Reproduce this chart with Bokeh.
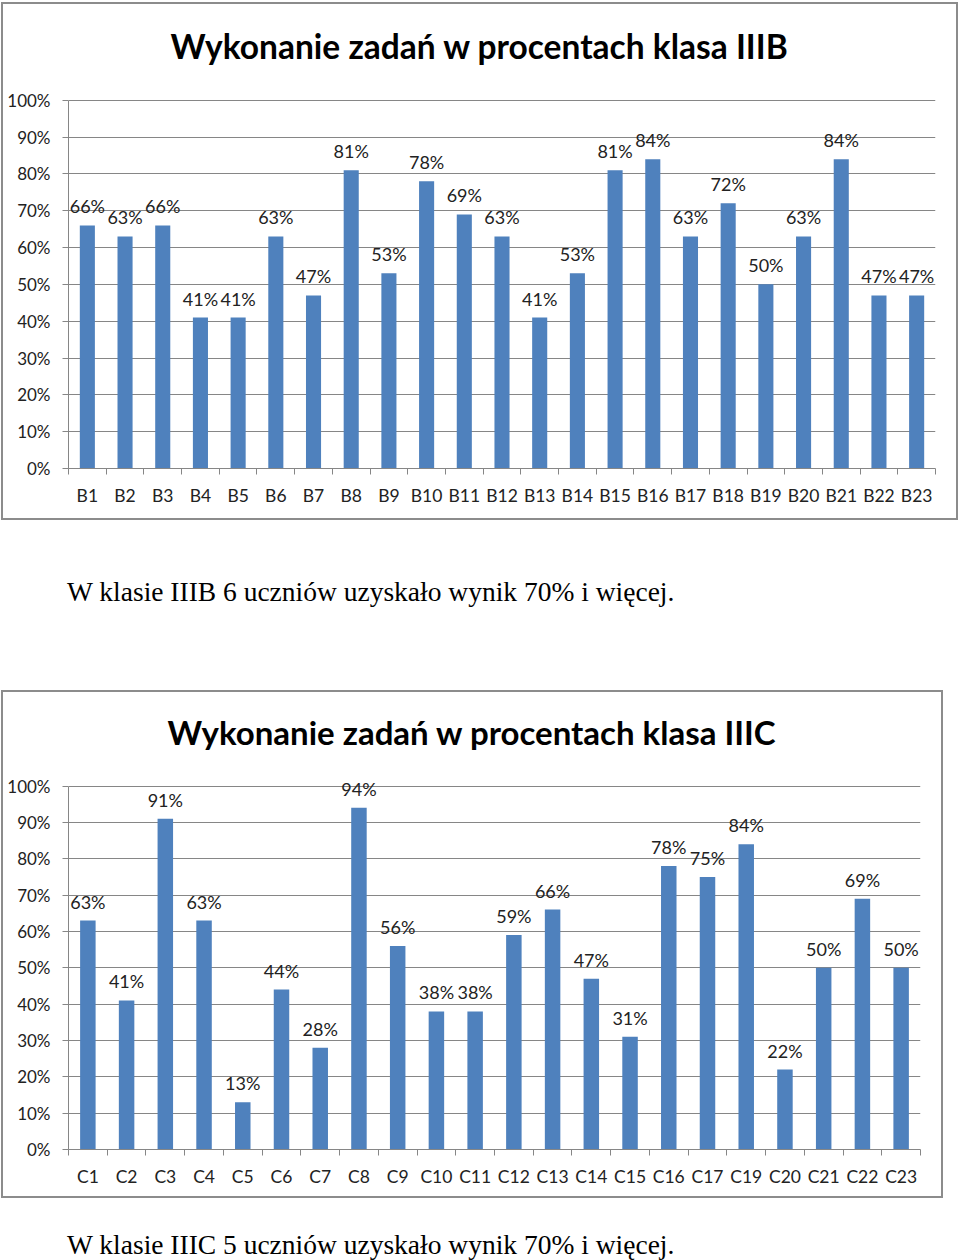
from bokeh.plotting import figure
from bokeh.models import (Range1d, LinearAxis, FixedTicker, PrintfTickFormatter, Title, Div,
                          ColumnDataSource, Grid, LabelSet, CustomJSTickFormatter)
from bokeh.core.properties import value
from bokeh.layouts import column
from bokeh.embed import file_html
from bokeh.resources import INLINE

# ---------------- data ----------------
title_b = "Wykonanie zadań w procentach klasa IIIB"
cats_b = ["B1", "B2", "B3", "B4", "B5", "B6", "B7", "B8", "B9", "B10", "B11", "B12",
          "B13", "B14", "B15", "B16", "B17", "B18", "B19", "B20", "B21", "B22", "B23"]
vals_b = [66, 63, 66, 41, 41, 63, 47, 81, 53, 78, 69, 63, 41, 53, 81, 84, 63, 72, 50, 63, 84, 47, 47]
caption_b = "W klasie IIIB 6 uczniów uzyskało wynik 70% i więcej."

title_c = "Wykonanie zadań w procentach klasa IIIC"
cats_c = ["C1", "C2", "C3", "C4", "C5", "C6", "C7", "C8", "C9", "C10", "C11", "C12",
          "C13", "C14", "C15", "C16", "C17", "C19", "C20", "C21", "C22", "C23"]
vals_c = [63, 41, 91, 63, 13, 44, 28, 94, 56, 38, 38, 59, 66, 47, 31, 78, 75, 84, 22, 50, 69, 50]
caption_c = "W klasie IIIC 5 uczniów uzyskało wynik 70% i więcej."

y_ticks = [0, 10, 20, 30, 40, 50, 60, 70, 80, 90, 100]

# ---------------- style ----------------
BAR = "#4F81BD"
GRID = "#868686"
TXT = "#222222"
FONT = "Lato"


def make_chart(title, cats, vals, width, height, b_top, b_bottom, b_left, b_right,
               title_offset, title_standoff, title_size):
    n = len(cats)
    centers = [i + 0.5 for i in range(n)]   # slot centres on the category scale
    src = ColumnDataSource(dict(x=centers, cat=cats, val=vals, lab=[f"{v}%" for v in vals]))
    p = figure(x_range=Range1d(0, n), y_range=Range1d(0, 104),
               width=width, height=height,
               output_backend="svg", toolbar_location=None,
               x_axis_location=None, y_axis_location=None,
               min_border_top=b_top, min_border_bottom=b_bottom,
               min_border_left=b_left, min_border_right=b_right,
               background_fill_color="white", border_fill_color="white",
               outline_line_color=None,
               styles={"border": "2px solid #8c8c8c", "box-sizing": "border-box"})
    p.center = []
    p.title = Title(text=title, align="left", vertical_align="top",
                    text_font=FONT, text_font_size=title_size,
                    text_font_style="bold", text_color="black",
                    offset=title_offset, standoff=title_standoff)

    p.add_layout(Grid(dimension=1, ticker=FixedTicker(ticks=y_ticks),
                      grid_line_color=GRID, grid_line_width=1))

    yaxis = LinearAxis(ticker=FixedTicker(ticks=y_ticks), bounds=(0, 100),
                       formatter=PrintfTickFormatter(format="%d%%"),
                       axis_line_color=GRID, major_tick_line_color=GRID,
                       major_tick_in=0, major_tick_out=6,
                       minor_tick_line_color=None,
                       major_label_standoff=12,
                       major_label_text_font=FONT, major_label_text_font_size="17px",
                       major_label_text_color=TXT)
    p.add_layout(yaxis, "left")

    tick_axis = LinearAxis(ticker=FixedTicker(ticks=list(range(n + 1))),
                           axis_line_color=GRID, major_tick_line_color=GRID,
                           major_tick_in=0, major_tick_out=6,
                           minor_tick_line_color=None,
                           major_label_text_font_size="0px", major_label_standoff=0)
    p.add_layout(tick_axis, "below")

    cat_axis = LinearAxis(ticker=FixedTicker(ticks=centers),
                          formatter=CustomJSTickFormatter(args=dict(cats=cats),
                                                          code="return cats[Math.floor(tick)];"),
                          axis_line_color=None, major_tick_line_color=None,
                          minor_tick_line_color=None,
                          major_tick_in=0, major_tick_out=0,
                          major_label_standoff=10,
                          major_label_text_font=FONT, major_label_text_font_size="17.5px",
                          major_label_text_color=TXT)
    p.add_layout(cat_axis, "below")

    p.vbar(x="x", top="val", width=0.4, source=src, fill_color=BAR, line_color=None)

    labels = LabelSet(x="x", y="val", text="lab", source=src, text_align="center",
                      text_baseline="alphabetic", y_offset=12,
                      text_font=value(FONT), text_font_size=value("18px"), text_color=TXT)
    p.add_layout(labels)
    return p


p1 = make_chart(title_b, cats_b, vals_b, width=957, height=518,
                b_top=81, b_bottom=54, b_left=65, b_right=25,
                title_offset=102, title_standoff=36, title_size="33.5px")
p1.margin = (2, 0, 0, 1)

cap1 = Div(text=f'<div style="padding-left:67px;padding-top:52px;font-family:\'Liberation Serif\';'
                f'font-size:27.5px;color:black;white-space:nowrap">{caption_b}</div>',
           width=960, height=170, margin=(0, 0, 0, 0))

p2 = make_chart(title_c, cats_c, vals_c, width=942, height=508,
                b_top=79, b_bottom=51, b_left=65, b_right=25,
                title_offset=99, title_standoff=35, title_size="33px")
p2.margin = (0, 0, 0, 1)

cap2 = Div(text=f'<div style="padding-left:67px;padding-top:27px;font-family:\'Liberation Serif\';'
                f'font-size:27.5px;color:black;white-space:nowrap">{caption_c}</div>',
           width=960, height=62, margin=(0, 0, 0, 0), styles={"overflow": "visible"})

layout = column(p1, cap1, p2, cap2, spacing=0, margin=(0, 0, 0, 0))

with open("out.html", "w") as f:
    f.write(file_html(layout, INLINE))
